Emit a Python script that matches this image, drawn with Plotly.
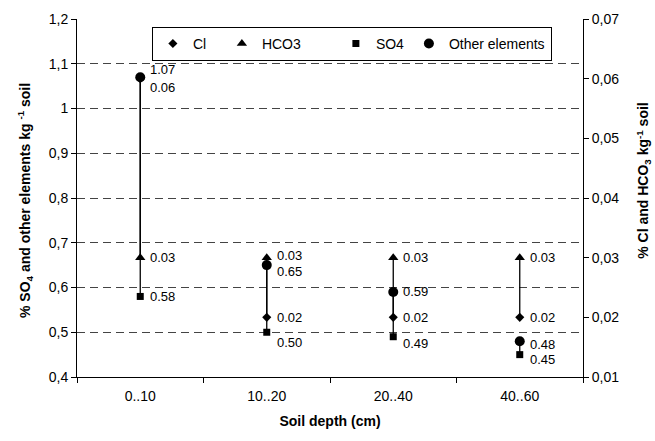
import plotly.graph_objects as go

categories = ["0..10", "10..20", "20..40", "40..60"]
cl_values = [0.06, 0.02, 0.02, 0.02]          # right axis
hco3_values = [0.03, 0.03, 0.03, 0.03]        # right axis
so4_values = [0.58, 0.50, 0.49, 0.45]         # left axis
other_values = [1.07, 0.65, 0.59, 0.48]       # left axis

left_ticks = [0.4, 0.5, 0.6, 0.7, 0.8, 0.9, 1.0, 1.1, 1.2]
right_ticks = [0.01, 0.02, 0.03, 0.04, 0.05, 0.06, 0.07]

left_title = "<b>% SO<sub>4</sub> and other elements kg <sup>-1</sup> soil</b>"
right_title = "<b>% Cl and HCO<sub>3</sub> kg<sup>-1</sup> soil</b>"
x_title = "<b>Soil depth (cm)</b>"

FONT = "Arial, Liberation Sans, sans-serif"

fig = go.Figure()

# high-low lines (primary: SO4/Other, secondary: Cl/HCO3)
def hilo(a, b):
    xs, ys = [], []
    for c, p, q in zip(categories, a, b):
        xs += [c, c, None]
        ys += [max(p, q), min(p, q), None]
    return xs, ys

hx, hy = hilo(other_values, so4_values)
fig.add_trace(go.Scatter(x=hx, y=hy, mode="lines", line=dict(color="black", width=1.3),
                         showlegend=False, hoverinfo="skip", yaxis="y"))
hx2, hy2 = hilo(cl_values, hco3_values)
fig.add_trace(go.Scatter(x=hx2, y=hy2, mode="lines", line=dict(color="black", width=1.3),
                         showlegend=False, hoverinfo="skip", yaxis="y2"))

fig.add_trace(go.Scatter(x=categories, y=cl_values, name="Cl", mode="markers", yaxis="y2",
                         marker=dict(symbol="diamond", size=7, color="black"), legendwidth=24))
fig.add_trace(go.Scatter(x=categories, y=hco3_values, name="HCO3", mode="markers", yaxis="y2",
                         marker=dict(symbol="triangle-up", size=9, color="black"), legendwidth=69))
fig.add_trace(go.Scatter(x=categories, y=so4_values, name="SO4", mode="markers", yaxis="y",
                         marker=dict(symbol="square", size=7, color="black"), legendwidth=28))
fig.add_trace(go.Scatter(x=categories, y=other_values, name="Other elements", mode="markers", yaxis="y",
                         marker=dict(symbol="circle", size=10, color="black"), legendwidth=97))

# data labels (vertical offsets in px, positive = down)
cl_shift = [9, 0, 0, 0]
hco3_shift = [0, -2, 0, 0]
so4_shift = [0, 10, 7, 5]
other_shift = [-8, 6, 0, 3]

annotations = []
for vals, shifts, yref in [(cl_values, cl_shift, "y2"), (hco3_values, hco3_shift, "y2"),
                           (so4_values, so4_shift, "y"), (other_values, other_shift, "y")]:
    for c, v, s in zip(categories, vals, shifts):
        annotations.append(dict(x=c, y=v, xref="x", yref=yref, text=f"{v:.2f}", showarrow=False,
                                xanchor="left", yanchor="middle", xshift=8, yshift=-s,
                                font=dict(family=FONT, size=13, color="black")))

# axis titles (rotated, reading bottom-to-top)
annotations.append(dict(text=left_title, xref="paper", yref="paper", x=-0.103, y=0.494,
                        xanchor="center", yanchor="middle", textangle=-90, showarrow=False,
                        font=dict(family=FONT, size=14, color="black")))
annotations.append(dict(text=right_title, xref="paper", yref="paper", x=1.12, y=0.55,
                        xanchor="center", yanchor="middle", textangle=-90, showarrow=False,
                        font=dict(family=FONT, size=14, color="black")))

fig.update_layout(
    width=655, height=441,
    margin=dict(l=77, r=72, t=19, b=64),
    paper_bgcolor="white", plot_bgcolor="white",
    separators=", ",
    font=dict(family=FONT, size=14, color="black"),
    annotations=annotations,
    showlegend=True,
    legend=dict(orientation="h", x=0.148, xanchor="left", y=0.978, yanchor="top",
                bgcolor="white", bordercolor="black", borderwidth=1,
                font=dict(family=FONT, size=14, color="black"), itemsizing="trace"),
    xaxis=dict(type="category", range=[-0.5, 3.5], automargin=False,
               showline=True, linecolor="black", linewidth=1,
               ticks="outside", tickson="boundaries", ticklen=5, tickcolor="black",
               showgrid=False, tickfont=dict(size=14), ticklabelstandoff=6,
               title=dict(text=x_title, font=dict(size=14), standoff=13)),
    yaxis=dict(range=[0.4, 1.2], tickvals=left_ticks, automargin=False,
               showline=True, linecolor="black", linewidth=1,
               ticks="outside", ticklen=5, tickcolor="black", zeroline=False,
               showgrid=True, gridcolor="#444", griddash="8px,5px", gridwidth=1,
               tickfont=dict(size=14)),
    yaxis2=dict(range=[0.01, 0.07], tickvals=right_ticks, overlaying="y", side="right",
                automargin=False,
                showline=True, linecolor="black", linewidth=1, ticks="outside", ticklen=5,
                tickcolor="black", showgrid=False, zeroline=False, tickfont=dict(size=14)),
)

fig.write_html("out.html", config={"displayModeBar": False},
               post_script="document.body.style.margin='0';document.body.style.padding='0';")
